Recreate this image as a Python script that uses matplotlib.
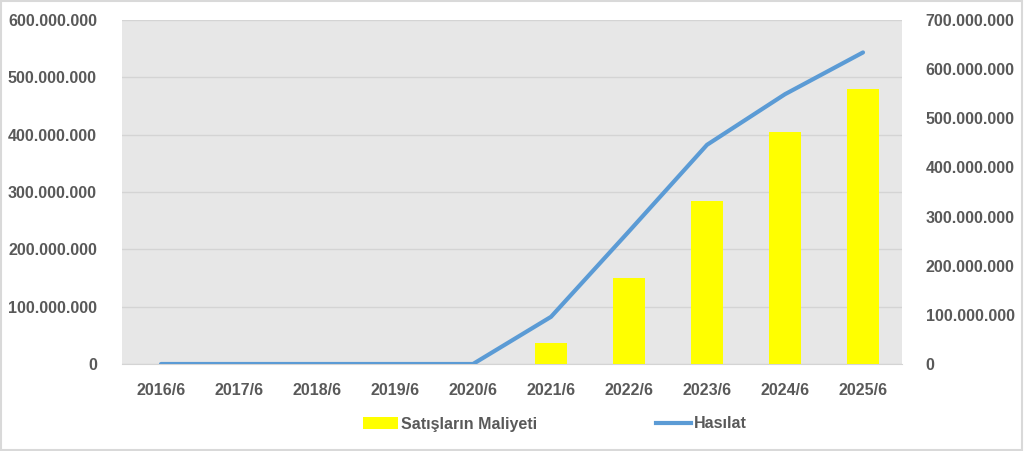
import matplotlib
matplotlib.use("Agg")
import matplotlib.pyplot as plt
from matplotlib.ticker import FuncFormatter, MultipleLocator
from matplotlib.patches import Patch, Rectangle
from matplotlib.lines import Line2D

categories = ["2016/6", "2017/6", "2018/6", "2019/6", "2020/6",
              "2021/6", "2022/6", "2023/6", "2024/6", "2025/6"]
satis_maliyeti = [0, 0, 0, 0, 0, 36e6, 150e6, 285e6, 405e6, 479e6]
hasilat = [0, 0, 0, 0, 0, 96e6, 270e6, 446e6, 549e6, 634e6]

plt.rcParams['font.family'] = ['Liberation Sans', 'DejaVu Sans']
txt = '#595959'
grid_c = '#d4d4d4'

fig = plt.figure(figsize=(10.24, 4.51), dpi=100)
ax = fig.add_axes([122/1024, 1-364/451, 780/1024, 344/451])
ax.set_facecolor('#e7e7e7')
x = list(range(len(categories)))
ax.bar(x, satis_maliyeti, width=0.4, color='#ffff00', zorder=3)
ax.set_xlim(-0.5, len(categories)-0.5)
ax.set_ylim(0, 600e6)
ax.yaxis.set_major_locator(MultipleLocator(100e6))
fmt = FuncFormatter(lambda v, p: f"{v:,.0f}".replace(',', '.'))
ax.yaxis.set_major_formatter(fmt)
ax.grid(axis='y', color=grid_c, linewidth=1, zorder=0)
for s in ['top', 'left', 'right']:
    ax.spines[s].set_visible(False)
ax.spines['bottom'].set_color(grid_c)
ax.set_xticks(x)
ax.set_xticklabels(categories)
ax.tick_params(axis='both', length=0, colors=txt, labelsize=11.5)
ax.tick_params(axis='x', pad=14)
ax.tick_params(axis='y', pad=18)
for lab in ax.get_xticklabels() + ax.get_yticklabels():
    lab.set_fontweight('bold')

ax2 = ax.twinx()
ax2.plot(x, hasilat, color='#5b9bd5', linewidth=3, solid_capstyle='round', zorder=4)
ax2.set_ylim(0, 700e6)
ax2.yaxis.set_major_locator(MultipleLocator(100e6))
ax2.yaxis.set_major_formatter(fmt)
for s in ax2.spines.values():
    s.set_visible(False)
ax2.tick_params(axis='y', length=0, colors=txt, labelsize=11.5, pad=17)
for lab in ax2.get_yticklabels():
    lab.set_fontweight('bold')

handles = [Patch(facecolor='#ffff00', edgecolor='none'),
           Line2D([0], [0], color='#5b9bd5', linewidth=3)]
leg = fig.legend(handles, ['Satışların Maliyeti', 'Hasılat'], loc='center',
                 bbox_to_anchor=(555/1024, 1-424/451), ncol=2, frameon=False,
                 handlelength=2.2, handleheight=0.7, columnspacing=7.4,
                 handletextpad=0.2, prop={'size': 11.5, 'weight': 'bold'})
for t in leg.get_texts():
    t.set_color(txt)

fig.patches.append(Rectangle((0.001, 0.002), 0.997, 0.995, transform=fig.transFigure,
                             fill=False, edgecolor='#d9d9d9', linewidth=1.5))
fig.savefig('out.png', dpi=100)
